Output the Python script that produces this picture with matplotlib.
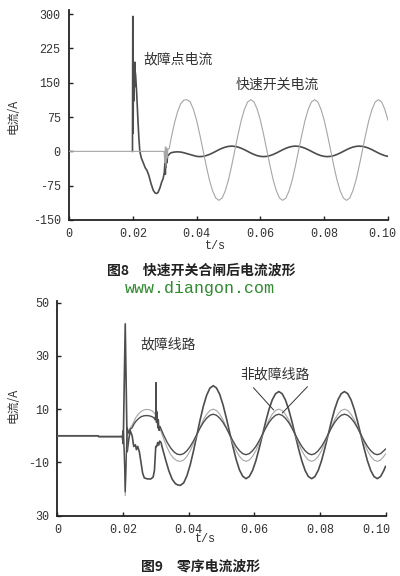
import matplotlib
matplotlib.use("Agg")
import matplotlib.pyplot as plt
from matplotlib.transforms import ScaledTranslation

plt.rcParams['font.family'] = ['Noto Sans CJK SC', 'DejaVu Sans']

# ---------------- data: figure 8 ----------------
top_t_steady = [0.032, 0.033, 0.034, 0.035, 0.036, 0.037, 0.038, 0.039, 0.040, 0.041,
                0.042, 0.043, 0.044, 0.045, 0.046, 0.047, 0.048, 0.049, 0.050, 0.051,
                0.052, 0.053, 0.054, 0.055, 0.056, 0.057, 0.058, 0.059, 0.060, 0.061,
                0.062, 0.063, 0.064, 0.065, 0.066, 0.067, 0.068, 0.069, 0.070, 0.071,
                0.072, 0.073, 0.074, 0.075, 0.076, 0.077, 0.078, 0.079, 0.080, 0.081,
                0.082, 0.083, 0.084, 0.085, 0.086, 0.087, 0.088, 0.089, 0.090, 0.091,
                0.092, 0.093, 0.094, 0.095, 0.096, 0.097, 0.098, 0.099, 0.100]

fault_t_transient = [0.0199, 0.0200, 0.0201, 0.0202, 0.0203, 0.0204, 0.0205, 0.0206, 0.0207, 0.0209,
                     0.0212, 0.0216, 0.0219, 0.0222, 0.0227, 0.0234, 0.0239, 0.0244, 0.0250, 0.0257,
                     0.0264, 0.0270, 0.0274, 0.0279, 0.0285, 0.0291, 0.0295, 0.0299, 0.0301, 0.0302,
                     0.0303, 0.0304, 0.0305, 0.0307, 0.0309, 0.0312, 0.0316]
fault_v_transient = [0, 295, 40, 175, 110, 190, 140, 195, 178, 165,
                     130, 70, 30, 0, -15, -27, -36, -41, -52, -70,
                     -85, -91, -92, -90, -80, -66, -60, -45, -20, -50,
                     -10, -35, -8, -25, -10, -8, -5]
fault_v_steady = [-3, -1.5, -1, -1.5, -3, -5, -7, -9, -10.9,
                  -11.5, -10.9, -9.3, -6.8, -3.6, 0, 3.6, 6.8, 9.3, 10.9,
                  11.5, 10.9, 9.3, 6.8, 3.6, 0, -3.6, -6.8, -9.3, -10.9,
                  -11.5, -10.9, -9.3, -6.8, -3.6, 0, 3.6, 6.8, 9.3, 10.9,
                  11.5, 10.9, 9.3, 6.8, 3.6, 0, -3.6, -6.8, -9.3, -10.9,
                  -11.5, -10.9, -9.3, -6.8, -3.6, 0, 3.6, 6.8, 9.3, 10.9,
                  11.5, 10.9, 9.3, 6.8, 3.6, 0, -3.6, -6.8, -9.3, -10.9]

switch_t_transient = [0.0, 0.0298, 0.0300, 0.0302, 0.0304, 0.0306, 0.0308, 0.0310, 0.0314]
switch_v_transient = [0, 0, -25, 10, -35, 8, -15, 5, 6]
switch_v_steady = [28, 60, 86, 104, 112, 113, 108, 92, 68, 37, 3,
                   -31, -62, -86, -102, -107, -102, -86, -62, -31, 3,
                   37, 68, 92, 108, 113, 108, 92, 68, 37, 3,
                   -31, -62, -86, -102, -107, -102, -86, -62, -31, 3,
                   37, 68, 92, 108, 113, 108, 92, 68, 37, 3,
                   -31, -62, -86, -102, -107, -102, -86, -62, -31, 3,
                   37, 68, 92, 108, 113, 108, 92, 68]

top_yticks = [300, 225, 150, 75, 0, -75, -150]
top_yticklabels = ['300', '225', '150', '75', '0', '-75', '-150']
xticks = [0, 0.02, 0.04, 0.06, 0.08, 0.10]
xticklabels = ['0', '0.02', '0.04', '0.06', '0.08', '0.10']

# ---------------- data: figure 9 ----------------
bot_t_transient = [0.0, 0.0124, 0.0126, 0.0198, 0.0201, 0.0204, 0.0207, 0.0210, 0.0213, 0.0217,
                   0.0222, 0.0228, 0.0234, 0.0240, 0.0248, 0.0256, 0.0264, 0.0272, 0.0280, 0.0288,
                   0.0294, 0.0298, 0.0300, 0.0301, 0.0302, 0.0304, 0.0306, 0.0308, 0.0310, 0.0313,
                   0.0318, 0.0325, 0.0335, 0.0345, 0.0355, 0.0365]
nonfault2_v_transient = [0, 0, -0.3, -0.3, 2, -6, -21, -8, 3, 1,
                         2.5, 3, 4.5, 5.5, 6.5, 7.2, 7.5, 7.6, 7.5, 7.2,
                         6.8, 6, 8, 20, 5, 9, 3, 6, 2, 3.5,
                         2, 0, -2.5, -4.5, -6, -6.9]
nonfault1_v_transient = [0, 0, -0.3, -0.3, 2, -7, -22.5, -10, 2, 1.5,
                         3, 4, 5.5, 7, 8.3, 9.2, 9.7, 9.9, 9.8, 9.4,
                         8.8, 8, 9, 12, 6, 8, 3, 5, 2.5, 2.5,
                         1, -1.5, -4.5, -7, -8.5, -9.4]

faultline_t_transient = [0.0, 0.0124, 0.0126, 0.0198, 0.0201, 0.0204, 0.0207, 0.0210, 0.0213, 0.0217,
                         0.0222, 0.0228, 0.0233, 0.0238, 0.0241, 0.0245, 0.0250, 0.0255, 0.0260, 0.0265,
                         0.0275, 0.0285, 0.0292, 0.0296, 0.0300, 0.0303, 0.0306, 0.0309, 0.0312, 0.0316,
                         0.0320, 0.0330, 0.0340, 0.0350, 0.0360, 0.0368]
faultline_v_transient = [0, 0, -0.3, -0.3, -3, 20, 42, 18, -6, -2,
                         2, 0, -4, -3.4, -5.2, -4, -6, -10, -14, -15.8,
                         -16.2, -16.2, -15.5, -13, -4, -4, -2.5, -3.5, -2, -2.5,
                         -4.5, -9, -13.2, -16.3, -18, -18.5]

bot_t_steady = [0.0375, 0.0385, 0.0395, 0.0405, 0.0415, 0.0425, 0.0435, 0.0445, 0.0455, 0.0465,
                0.0475, 0.0485, 0.0495, 0.0505, 0.0515, 0.0525, 0.0535, 0.0545, 0.0555, 0.0565,
                0.0575, 0.0585, 0.0595, 0.0605, 0.0615, 0.0625, 0.0635, 0.0645, 0.0655, 0.0665,
                0.0675, 0.0685, 0.0695, 0.0705, 0.0715, 0.0725, 0.0735, 0.0745, 0.0755, 0.0765,
                0.0775, 0.0785, 0.0795, 0.0805, 0.0815, 0.0825, 0.0835, 0.0845, 0.0855, 0.0865,
                0.0875, 0.0885, 0.0895, 0.0905, 0.0915, 0.0925, 0.0935, 0.0945, 0.0955, 0.0965,
                0.0975, 0.0985, 0.0995, 0.1000]
faultline_v_steady = [-18.6, -17.7, -15.0, -10.9, -5.7, 0.1, 5.9, 11.1, 15.2, 17.9, 18.8,
                      17.95, 15.5, 11.6, 6.7, 1.35, -4.0, -8.9, -12.8, -15.2, -16.1,
                      -15.3, -13.0, -9.4, -4.8, 0.25, 5.3, 9.9, 13.5, 15.8, 16.6,
                      15.8, 13.5, 9.9, 5.3, 0.25, -4.8, -9.4, -13.0, -15.3, -16.1,
                      -15.3, -13.0, -9.4, -4.8, 0.25, 5.3, 9.9, 13.5, 15.8, 16.6,
                      15.8, 13.5, 9.9, 5.3, 0.25, -4.8, -9.4, -13.0, -15.3, -16.1,
                      -15.3, -13.0, -11.5]
nonfault1_v_steady = [-9.6, -9.1, -7.7, -5.6, -2.8, 0.2, 3.2, 6.0, 8.1, 9.5, 10.0,
                      9.5, 8.1, 6.0, 3.2, 0.2, -2.8, -5.6, -7.7, -9.1, -9.6,
                      -9.1, -7.7, -5.6, -2.8, 0.2, 3.2, 6.0, 8.1, 9.5, 10.0,
                      9.5, 8.1, 6.0, 3.2, 0.2, -2.8, -5.6, -7.7, -9.1, -9.6,
                      -9.1, -7.7, -5.6, -2.8, 0.2, 3.2, 6.0, 8.1, 9.5, 10.0,
                      9.5, 8.1, 6.0, 3.2, 0.2, -2.8, -5.6, -7.7, -9.1, -9.6,
                      -9.1, -7.7, -6.8]
nonfault2_v_steady = [-7.1, -6.7, -5.6, -4.0, -1.9, 0.5, 2.9, 5.0, 6.6, 7.7, 8.1,
                      7.7, 6.6, 5.0, 2.9, 0.5, -1.9, -4.0, -5.6, -6.7, -7.1,
                      -6.7, -5.6, -4.0, -1.9, 0.5, 2.9, 5.0, 6.6, 7.7, 8.1,
                      7.7, 6.6, 5.0, 2.9, 0.5, -1.9, -4.0, -5.6, -6.7, -7.1,
                      -6.7, -5.6, -4.0, -1.9, 0.5, 2.9, 5.0, 6.6, 7.7, 8.1,
                      7.7, 6.6, 5.0, 2.9, 0.5, -1.9, -4.0, -5.6, -6.7, -7.1,
                      -6.7, -5.6, -5.0]

leader1_t = [0.0598, 0.0659]
leader1_v = [18.0, 9.7]
leader2_t = [0.0762, 0.0686]
leader2_v = [18.4, 8.6]

bot_yticks = [50, 30, 10, -10, -30]
bot_yticklabels = ['50', '30', '10', '-10', '30']

# ---------------- drawing ----------------
W, H = 400, 576
fig = plt.figure(figsize=(W / 100, H / 100), dpi=100)
fig.patch.set_facecolor('white')

def fx(px):
    return px / W

def fy(py):
    return 1 - py / H

DARK = '#4d4d4d'
LIGHT = '#a6a6a6'
MONO = 'Liberation Mono'
CJK = ['Noto Sans CJK SC', 'DejaVu Sans']

def style_axes(ax, yticks, yticklabels, last_shift_px):
    for s in ['top', 'right']:
        ax.spines[s].set_visible(False)
    for s in ['left', 'bottom']:
        ax.spines[s].set_linewidth(1.3)
        ax.spines[s].set_color('#222222')
    ax.set_xticks(xticks)
    ax.set_xticklabels(xticklabels, fontfamily=MONO, fontsize=8.5, color='#333333')
    ax.set_yticks(yticks)
    ax.set_yticklabels(yticklabels, fontfamily=MONO, fontsize=8.5, color='#333333')
    ax.tick_params(direction='in', length=3, width=1, colors='#222222', pad=6)
    for lab in ax.get_xticklabels() + ax.get_yticklabels():
        lab.set_color('#333333')
    last = ax.get_xticklabels()[-1]
    last.set_transform(last.get_transform() +
                       ScaledTranslation(last_shift_px / 100, 0, fig.dpi_scale_trans))
    ax.set_facecolor('none')

# Figure 8
ax1 = fig.add_axes([fx(69), fy(220), fx(388) - fx(69), fy(10) - fy(220)])
ax1.plot(switch_t_transient + top_t_steady, switch_v_transient + switch_v_steady,
         color=LIGHT, lw=0.8, zorder=3)
ax1.plot(fault_t_transient + top_t_steady, fault_v_transient + fault_v_steady,
         color=DARK, lw=1.2, zorder=2)
ax1.set_xlim(0, 0.1)
ax1.set_ylim(-150, 309)
style_axes(ax1, top_yticks, top_yticklabels, -6)
ax1.text(0.0232, 200, '故障点电流', fontfamily=CJK, fontsize=10, color='#333333',
         ha='left', va='center')
ax1.text(0.0522, 145, '快速开关电流', fontfamily=CJK, fontsize=10, color='#333333',
         ha='left', va='center')

# Figure 9
ax2 = fig.add_axes([fx(57.3), fy(515.7), fx(385.5) - fx(57.3), fy(301) - fy(515.7)])
ax2.plot(faultline_t_transient + bot_t_steady, faultline_v_transient + faultline_v_steady,
         color=DARK, lw=1.2, zorder=2)
ax2.plot(bot_t_transient + bot_t_steady, nonfault1_v_transient + nonfault1_v_steady,
         color=LIGHT, lw=0.8, zorder=3)
ax2.plot(bot_t_transient + bot_t_steady, nonfault2_v_transient + nonfault2_v_steady,
         color=DARK, lw=1.0, zorder=4)
ax2.plot(leader1_t, leader1_v, color='#333333', lw=0.7, zorder=5)
ax2.plot(leader2_t, leader2_v, color='#333333', lw=0.7, zorder=5)
ax2.set_xlim(0, 0.1)
ax2.set_ylim(-30, 50.6)
style_axes(ax2, bot_yticks, bot_yticklabels, -9)
ax2.text(0.0252, 34.3, '故障线路', fontfamily=CJK, fontsize=10, color='#333333',
         ha='left', va='center')
ax2.text(0.0558, 23.2, '非故障线路', fontfamily=CJK, fontsize=10, color='#333333',
         ha='left', va='center')

# axis labels
fig.text(fx(13), fy(116), '电流/A', fontfamily=CJK, fontsize=8.5, rotation=90,
         ha='center', va='center', color='#333333')
fig.text(fx(13), fy(405), '电流/A', fontfamily=CJK, fontsize=8.5, rotation=90,
         ha='center', va='center', color='#333333')
fig.text(fx(215), fy(246), 't/s', fontfamily=MONO, fontsize=8.5, ha='center',
         va='center', color='#333333')
fig.text(fx(205), fy(539), 't/s', fontfamily=MONO, fontsize=8.5, ha='center',
         va='center', color='#333333')

# captions
fig.text(fx(201), fy(271), '图8\u3000快速开关合闸后电流波形', fontfamily=CJK, fontsize=10,
         fontweight='bold', ha='center', va='center', color='#222222')
fig.text(fx(200), fy(289), 'www.diangon.com', fontfamily=MONO, fontsize=12,
         ha='center', va='center', color='#2e8b2e')
fig.text(fx(201), fy(567), '图9\u3000零序电流波形', fontfamily=CJK, fontsize=10,
         fontweight='bold', ha='center', va='center', color='#222222')

fig.savefig('out.png', dpi=100, facecolor='white')
